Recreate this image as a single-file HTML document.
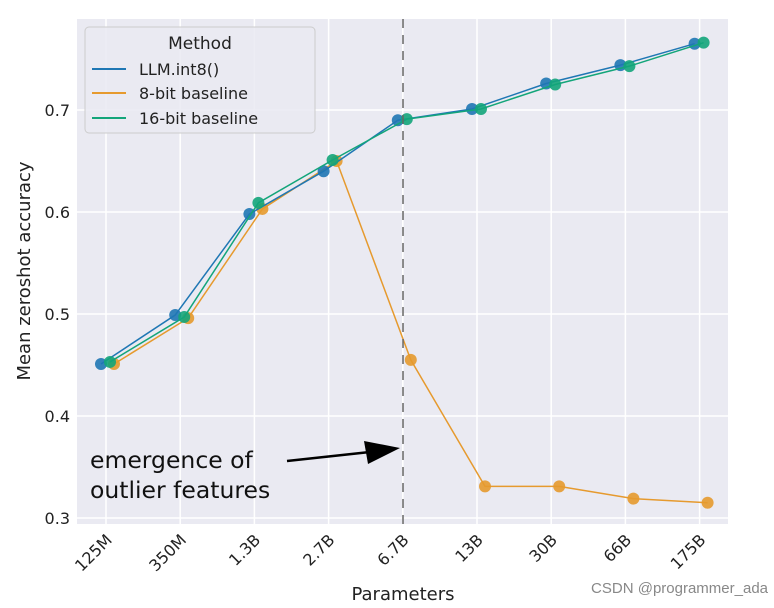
<!DOCTYPE html>
<html><head><meta charset="utf-8"><style>
body{margin:0;background:#fff;}
svg{display:block;font-family:"DejaVu Sans","Liberation Sans",sans-serif;}
</style></head><body>
<svg id="chart" width="774" height="608" viewBox="0 0 774 608">
<rect x="77" y="19" width="651" height="505" fill="#eaeaf2"/>
<g id="grid"></g>
<g id="series"></g>
<g id="axes"></g>
<line x1="403" y1="19" x2="403" y2="524" stroke="#666" stroke-width="1.5" stroke-dasharray="9,7"/>
<text x="90" y="468" font-size="23.5" fill="#111">emergence of</text>
<text x="90" y="498" font-size="23.5" fill="#111">outlier features</text>
<line x1="287" y1="461" x2="370" y2="452" stroke="#000" stroke-width="2.5"/>
<polygon points="400,448 364,441 368,464" fill="#000"/>
<g>
<rect x="85" y="27" width="230" height="106" rx="4" fill="#eaeaf2" fill-opacity="0.85" stroke="#ccc"/>
<text x="200" y="49" font-size="17" fill="#222" text-anchor="middle">Method</text>
<line x1="92" y1="69" x2="126" y2="69" stroke="#1f77b4" stroke-width="2"/>
<text x="139" y="75" font-size="16" fill="#222">LLM.int8()</text>
<line x1="92" y1="93" x2="126" y2="93" stroke="#e69a2e" stroke-width="2"/>
<text x="139" y="99" font-size="16" fill="#222">8-bit baseline</text>
<line x1="92" y1="118" x2="126" y2="118" stroke="#13a57a" stroke-width="2"/>
<text x="139" y="124" font-size="16" fill="#222">16-bit baseline</text>
</g>
<text transform="translate(30,271) rotate(-90)" font-size="18" fill="#222" text-anchor="middle">Mean zeroshot accuracy</text>
<text x="403" y="600" font-size="18" fill="#222" text-anchor="middle">Parameters</text>
<text x="768" y="593" font-size="15" fill="#888" text-anchor="end" font-family="Liberation Sans, sans-serif">CSDN @programmer_ada</text>
</svg>
<script>
const categories=["125M","350M","1.3B","2.7B","6.7B","13B","30B","66B","175B"];
const int8Values=[0.451,0.499,0.598,0.640,0.690,0.701,0.726,0.744,0.765];
const bit8Values=[0.451,0.496,0.603,0.650,0.455,0.331,0.331,0.319,0.315];
const bit16Values=[0.453,0.497,0.609,0.651,0.691,0.701,0.725,0.743,0.766];
const yTicks=[0.3,0.4,0.5,0.6,0.7];
const NS="http://www.w3.org/2000/svg";
function xPos(i){return 106+i*74.2;}
function yPos(v){return 518-(v-0.3)*1020;}
function mk(tag,attrs,parent){const e=document.createElementNS(NS,tag);for(const k in attrs)e.setAttribute(k,attrs[k]);parent.appendChild(e);return e;}
const grid=document.getElementById('grid'),axes=document.getElementById('axes'),series=document.getElementById('series');
yTicks.forEach(t=>{
 const l=mk('line',{x1:77,x2:728,y1:yPos(t),y2:yPos(t),stroke:'#fff','stroke-width':1.5},grid);
 
 
 const tx=mk('text',{x:70,y:yPos(t)+6,'font-size':16,fill:'#222','text-anchor':'end'},axes);
 tx.textContent=t.toFixed(1);
 
 
});
categories.forEach((c,i)=>{
 const l=mk('line',{x1:xPos(i),x2:xPos(i),y1:19,y2:524,stroke:'#fff','stroke-width':1.5},grid);
 
 
 const tx=mk('text',{'font-size':16,fill:'#222','text-anchor':'end',transform:`translate(${xPos(i)+7},${541}) rotate(-45)`},axes);
 tx.textContent=c;
 
 
});
function draw(vals,color,dx,name){
 const pts=vals.map((v,i)=>(xPos(i)+dx)+','+yPos(v)).join(' ');
 const pl=mk('polyline',{points:pts,fill:'none',stroke:color,'stroke-width':1.5},series);
 
 
 vals.forEach((v,i)=>{
  const c=mk('circle',{cx:xPos(i)+dx,cy:yPos(v),r:6,fill:color,'fill-opacity':0.9},series);
  
  
 });
}
draw(bit8Values,'#e69a2e',8,'8bit');
draw(int8Values,'#1f77b4',-5,'int8');
draw(bit16Values,'#13a57a',4,'16bit');
</script>
</body></html>
